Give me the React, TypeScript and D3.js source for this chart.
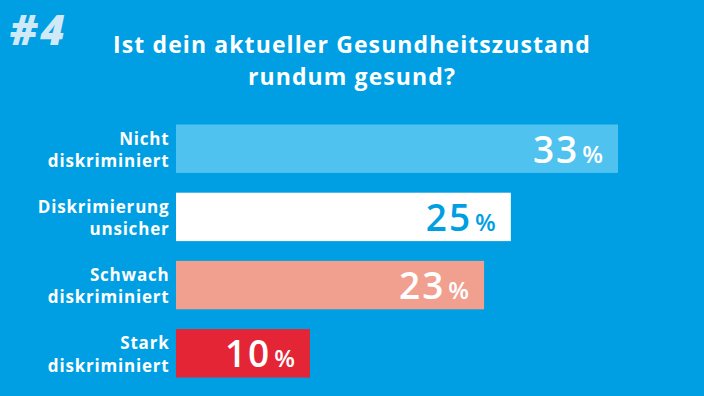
import React from "react"
import { scaleLinear, scaleBand } from "d3"

const width = 704
const height = 396
const font = "'Open Sans', sans-serif"

const categories = [
  ["Nicht", "diskriminiert"],
  ["Diskrimierung", "unsicher"],
  ["Schwach", "diskriminiert"],
  ["Stark", "diskriminiert"],
]
const values = [33, 25, 23, 10]
const barColors = ["#50c2f0", "#ffffff", "#f19f8f", "#e42535"]
const valueColors = ["#ffffff", "#009fe3", "#ffffff", "#ffffff"]
const titleLines = ["Ist dein aktueller Gesundheitszustand", "rundum gesund?"]

const x = scaleLinear().domain([0, 33]).range([176, 618])
const y = scaleBand<number>()
  .domain(values.map((_, i) => i))
  .range([124.5, 377.5])
  .paddingInner(0.29)
  .paddingOuter(0)

const App = () => (
  <svg
    width={width}
    height={height}
    style={{ position: "absolute", left: 0, top: 0, display: "block" }}
  >
    <rect width={width} height={height} fill="#009fe3" />
    <text
      x={10}
      y={45}
      fill="#cfe9f7"
      fontFamily={font}
      fontWeight={800}
      fontStyle="italic"
      fontSize={42}
      letterSpacing={3}
    >
      #4
    </text>
    {titleLines.map((t, i) => (
      <text
        key={t}
        x={352}
        y={53 + i * 32}
        textAnchor="middle"
        fill="#ffffff"
        fontFamily={font}
        fontWeight={700}
        fontSize={23}
        letterSpacing={1.1}
      >
        {t}
      </text>
    ))}
    {values.map((v, i) => {
      const top = y(i)!
      const bw = y.bandwidth()
      return (
        <g key={i}>
          <rect x={x(0)} y={top} width={x(v) - x(0)} height={bw} fill={barColors[i]} />
          {categories[i].map((line, j) => (
            <text
              key={j}
              x={169.5}
              y={top + 20 + j * 22.5}
              textAnchor="end"
              fill="#ffffff"
              fontFamily={font}
              fontWeight={700}
              fontSize={17}
              letterSpacing={0.8}
            >
              {line}
            </text>
          ))}
          <text
            x={x(v) - 15}
            y={top + bw / 2 + 14}
            textAnchor="end"
            fill={valueColors[i]}
            fontFamily={font}
            fontWeight={600}
          >
            <tspan fontSize={37} letterSpacing={2}>{v}</tspan>
            <tspan fontSize={24} dx={3}>%</tspan>
          </text>
        </g>
      )
    })}
  </svg>
)

export default App
